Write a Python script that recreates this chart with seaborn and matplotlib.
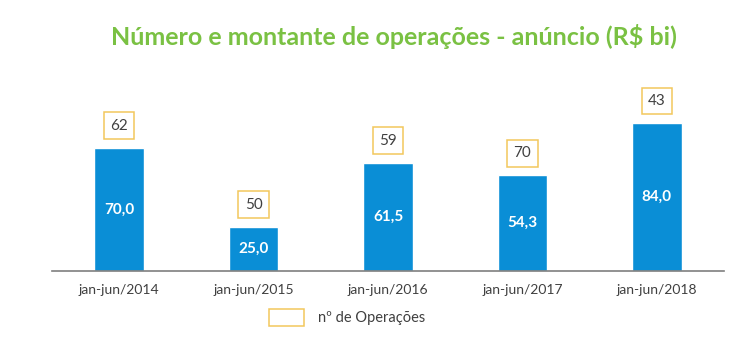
import matplotlib
matplotlib.use("Agg")
import matplotlib.pyplot as plt
import seaborn as sns
import pandas as pd
from matplotlib.patches import Patch

# Data
periodos = ["jan-jun/2014", "jan-jun/2015", "jan-jun/2016", "jan-jun/2017", "jan-jun/2018"]
montante = [70.0, 25.0, 61.5, 54.3, 84.0]
operacoes = [62, 50, 59, 70, 43]

df = pd.DataFrame({"periodo": periodos, "montante": montante})

sns.set_style("white")
plt.rcParams["font.family"] = ["Lato", "DejaVu Sans"]

BLUE = "#0A8ED6"
GREEN = "#7AC143"
GOLD = "#F2C75C"
TEXT = "#404040"

fig = plt.figure(figsize=(7.5, 3.45), dpi=100)
ax = fig.add_axes([52 / 750, 74 / 345, 672 / 750, 176 / 345])

sns.barplot(data=df, x="periodo", y="montante", color=BLUE, width=0.37,
            saturation=1, ax=ax)
ax.set_xlim(-0.5, len(periodos) - 0.5)
ax.set_ylim(0, 100)

# values inside the bars
labels = [f"{v:.1f}".replace(".", ",") for v in montante]
ax.bar_label(ax.containers[0], labels=labels, label_type="center",
             color="white", fontsize=11, fontweight="bold")

# number of operations in boxes above each bar
for i, (v, n) in enumerate(zip(montante, operacoes)):
    ax.annotate(str(n), xy=(i, v), xytext=(0, 16), textcoords="offset points",
                ha="center", va="center", fontsize=11, color=TEXT,
                bbox=dict(boxstyle="square,pad=0.42", fc="white", ec=GOLD, lw=1.1))

# axes styling
for s in ["top", "right", "left"]:
    ax.spines[s].set_visible(False)
ax.spines["bottom"].set_color("#7f7f7f")
ax.spines["bottom"].set_linewidth(1.2)
ax.set_yticks([])
ax.set_xlabel("")
ax.set_ylabel("")
ax.set_xticks(range(len(periodos)))
ax.set_xticklabels(periodos, fontsize=10, color=TEXT)
ax.tick_params(axis="x", which="major", length=0, pad=9)
ax.set_xticks([i - 0.5 for i in range(len(periodos) + 1)], minor=True)
ax.tick_params(axis="x", which="minor", length=5, width=1.2, color="#7f7f7f",
               direction="out")

fig.text(0.525, 0.895, "Número e montante de operações - anúncio (R$ bi)",
         ha="center", va="center", fontsize=18, fontweight="bold", color=GREEN)

handle = Patch(facecolor="white", edgecolor=GOLD, linewidth=1.1)
fig.legend([handle], ["nº de Operações"], loc="center",
           bbox_to_anchor=(0.463, 0.08), frameon=False, fontsize=10.5,
           handlelength=2.4, handleheight=1.5, handletextpad=1.0,
           labelcolor=TEXT)

fig.savefig("out.png", dpi=100, facecolor="white")
